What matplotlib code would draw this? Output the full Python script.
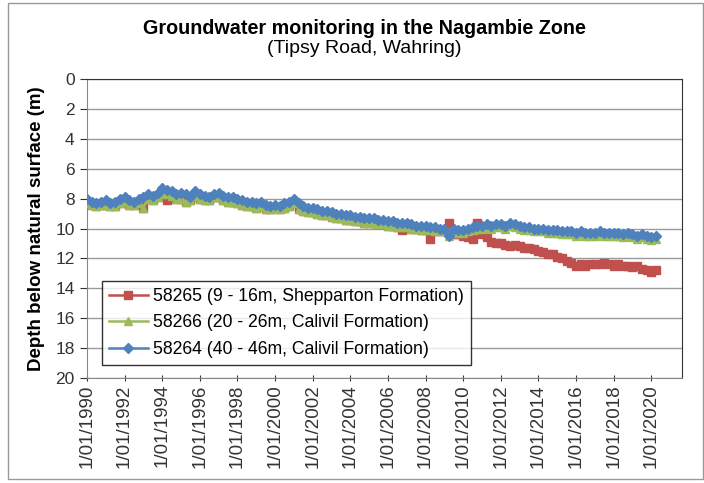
import numpy as np
import pandas as pd
import matplotlib.pyplot as plt
import matplotlib.dates as mdates
from matplotlib.patches import Rectangle

plt.rcParams['font.family'] = ['Liberation Sans', 'DejaVu Sans']

# quarterly readings (Jan, Apr, Jul, Oct) from 1/01/1990 to 4/2020
dates = pd.date_range('1990-01-01', '2020-04-01', freq='QS')

# 58264 (40 - 46m, Calivil Formation)
bore_58264 = [
    8.0, 8.2, 8.3, 8.2,   8.1, 8.3, 8.2, 8.0,   7.9, 8.1, 8.2, 8.0,
    7.9, 7.7, 7.8, 7.6,   7.3, 7.4, 7.5, 7.7,   7.6, 7.7, 7.9, 7.5,
    7.7, 7.8, 7.9, 7.7,   7.6, 7.8, 7.9, 7.9,   8.0, 8.1, 8.2, 8.2,
    8.3, 8.2, 8.4, 8.5,   8.4, 8.5, 8.3, 8.2,   8.0, 8.3, 8.5, 8.6,
    8.6, 8.7, 8.8, 8.8,   8.9, 9.0, 9.0, 9.1,   9.1, 9.2, 9.2, 9.3,
    9.3, 9.3, 9.4, 9.4,   9.5, 9.5, 9.6, 9.6,   9.6, 9.7, 9.8, 9.8,
    9.8, 9.9, 9.9, 10.0,  10.0, 10.5, 10.0, 10.1, 10.1, 10.0, 9.9, 9.8,
    9.8, 9.7, 9.8, 9.7,   9.7, 9.8, 9.6, 9.7,   9.8, 9.9, 9.9, 10.0,
    10.0, 10.0, 10.1, 10.1, 10.1, 10.2, 10.2, 10.2, 10.3, 10.2, 10.3, 10.3,
    10.3, 10.2, 10.3, 10.3, 10.3, 10.3, 10.4, 10.3, 10.4, 10.5, 10.4, 10.5,
    10.6, 10.5,
]

# 58266 (20 - 26m, Calivil Formation)
bore_58266 = [
    8.3, 8.4, 8.5, 8.4,   8.4, 8.5, 8.5, 8.3,   8.2, 8.4, 8.4, 8.3,
    8.6, 8.0, 8.1, 7.9,   7.7, 7.7, 7.8, 8.0,   8.0, 8.2, 8.1, 7.8,
    8.0, 8.1, 8.1, 7.9,   7.9, 8.1, 8.2, 8.2,   8.3, 8.4, 8.5, 8.5,
    8.6, 8.5, 8.7, 8.7,   8.7, 8.7, 8.6, 8.5,   8.3, 8.7, 8.8, 8.9,
    8.9, 9.0, 9.1, 9.1,   9.2, 9.3, 9.3, 9.4,   9.4, 9.5, 9.5, 9.6,
    9.6, 9.6, 9.7, 9.7,   9.8, 9.8, 9.9, 9.9,   9.9, 10.0, 10.0, 10.1,
    10.1, 10.1, 10.2, 10.2, 10.2, 10.5, 10.3, 10.3, 10.3, 10.2, 10.1, 10.0,
    10.0, 9.9, 10.0, 9.9,  9.9, 10.0, 9.8, 9.9,   10.0, 10.1, 10.1, 10.2,
    10.2, 10.2, 10.3, 10.3, 10.3, 10.4, 10.4, 10.4, 10.5, 10.4, 10.5, 10.5,
    10.5, 10.4, 10.5, 10.5, 10.5, 10.5, 10.6, 10.5, 10.6, 10.7, 10.6, 10.7,
    10.8, 10.7,
]

# 58265 (9 - 16m, Shepparton Formation)
bore_58265 = [
    8.3, 8.4, 8.5, 8.4,   8.4, 8.5, 8.5, 8.3,   8.2, 8.4, 8.4, 8.3,
    8.6, 8.0, 8.1, 7.9,   7.7, 8.1, 7.8, 8.0,   8.0, 8.2, 8.1, 7.8,
    8.0, 8.1, 8.1, 7.9,   7.9, 8.1, 8.2, 8.2,   8.3, 8.4, 8.5, 8.5,
    8.6, 8.5, 8.7, 8.7,   8.6, 8.7, 8.6, 8.5,   8.3, 8.7, 8.8, 8.9,
    8.9, 9.0, 9.1, 9.1,   9.2, 9.3, 9.3, 9.4,   9.4, 9.5, 9.5, 9.6,
    9.6, 9.6, 9.7, 9.7,   9.8, 9.8, 9.9, 10.1,  9.9, 10.0, 10.0, 10.1,
    10.1, 10.7, 10.2, 10.2, 10.2, 9.6, 10.4, 10.4, 10.5, 10.6, 10.7, 9.6,
    10.4, 10.6, 10.9, 11.0, 11.0, 11.1, 11.2, 11.1, 11.2, 11.3, 11.3, 11.4,
    11.5, 11.6, 11.7, 11.7, 11.9, 12.0, 12.2, 12.3, 12.5, 12.4, 12.5, 12.4,
    12.4, 12.4, 12.3, 12.4, 12.5, 12.4, 12.5, 12.5, 12.6, 12.5, 12.7, 12.8,
    12.9, 12.8,
]

labels = ['58265 (9 - 16m, Shepparton Formation)',
          '58266 (20 - 26m, Calivil Formation)',
          '58264 (40 - 46m, Calivil Formation)']

fig = plt.figure(figsize=(7.04, 4.83), dpi=100)
ax = fig.add_axes([0.1236, 0.2174, 0.8452, 0.619])

ax.plot(dates, bore_58265, color='#C0504D', marker='s', ms=6, lw=1.8,
        label=labels[0], zorder=3)
ax.plot(dates, bore_58266, color='#9BBB59', marker='^', ms=6, lw=1.8,
        label=labels[1], zorder=4)
ax.plot(dates, bore_58264, color='#4F81BD', marker='D', ms=5, lw=1.8,
        label=labels[2], zorder=5)

ax.set_ylim(20, 0)
ax.set_yticks(np.arange(0, 21, 2))
ax.set_xlim(pd.Timestamp('1990-01-01'), pd.Timestamp('2021-08-20'))
ax.set_xticks(pd.date_range('1990-01-01', '2020-01-01', freq='2YS'))
ax.xaxis.set_major_formatter(mdates.DateFormatter('1/%m/%Y'))
ax.tick_params(axis='x', labelrotation=90, labelsize=13.5, colors='#333333',
               length=5, direction='inout', pad=2)
ax.tick_params(axis='y', labelsize=12.5, colors='#333333', length=5,
               direction='out', pad=4)

ax.grid(axis='y', color='#9a9a9a', lw=1)
ax.set_axisbelow(True)
for side in ['left', 'bottom']:
    ax.spines[side].set_color('#888888')
for side in ['top', 'right']:
    ax.spines[side].set_color('#333333')

ax.set_ylabel('Depth below natural surface (m)', fontsize=13.5,
              fontweight='bold', labelpad=7)

leg = ax.legend(loc='lower left', bbox_to_anchor=(0.025, 0.043), fontsize=12.7,
                frameon=True, fancybox=False, edgecolor='black',
                handlelength=2.2, handletextpad=0.3, borderpad=0.4,
                labelspacing=0.55, borderaxespad=0)
leg.get_frame().set_linewidth(1)
leg.set_zorder(10)

fig.text(0.518, 0.942, 'Groundwater monitoring in the Nagambie Zone',
         ha='center', va='center', fontsize=14.2, fontweight='bold')
fig.text(0.518, 0.899, '(Tipsy Road, Wahring)', ha='center', va='center',
         fontsize=14)

# chart area border
fig.patches.append(Rectangle((0.012, 0.008), 0.986, 0.985,
                             transform=fig.transFigure, fill=False,
                             edgecolor='#999999', lw=1))

fig.savefig('out.png', dpi=100)
